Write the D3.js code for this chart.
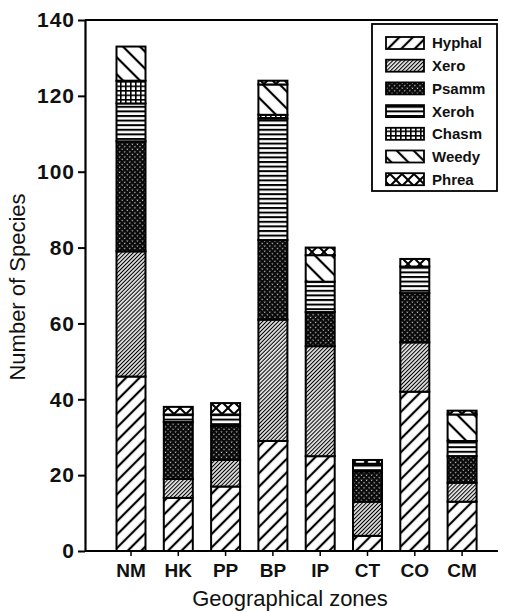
<!DOCTYPE html>
<html>
<head>
<meta charset="utf-8">
<script src="https://cdn.jsdelivr.net/npm/d3@7"></script>
<style>
  html, body { margin: 0; padding: 0; background: #fff; }
  svg { display: block; }
  text { font-family: "Liberation Sans", Arial, sans-serif; fill: #111; }
</style>
</head>
<body>
<script>
// ---- Data ----
const zones  = ["NM", "HK", "PP", "BP", "IP", "CT", "CO", "CM"];
const seriesNames = ["Hyphal", "Xero", "Psamm", "Xeroh", "Chasm", "Weedy", "Phrea"];
const hyphal = [46, 14, 17, 29, 25, 4, 42, 13];
const xero   = [33, 5, 7, 32, 29, 9, 13, 5];
const psamm  = [29, 15, 9, 21, 9, 8, 13, 7];
const xeroh  = [10, 2, 3, 32, 8, 2, 7, 4];
const chasm  = [6, 0, 0, 1, 0, 0, 0, 0];
const weedy  = [9, 0, 0, 8, 7, 0, 0, 7];
const phrea  = [0, 2, 3, 1, 2, 1, 2, 1];
const yTicks = [0, 20, 40, 60, 80, 100, 120, 140];

const seriesValues = [hyphal, xero, psamm, xeroh, chasm, weedy, phrea];
const table = zones.map((z, i) => {
  const row = { zone: z };
  seriesNames.forEach((s, k) => row[s] = seriesValues[k][i]);
  return row;
});

const W = 507, H = 612;
const svg = d3.select("body").append("svg").attr("width", W).attr("height", H);

// ---- Patterns ----
const defs = svg.append("defs");
function linePattern(id, spacing, sw, angle) {
  const p = defs.append("pattern").attr("id", id)
    .attr("patternUnits", "userSpaceOnUse")
    .attr("width", spacing).attr("height", spacing)
    .attr("patternTransform", `rotate(${angle})`);
  p.append("rect").attr("width", spacing).attr("height", spacing).attr("fill", "#fff");
  p.append("line").attr("x1", spacing / 2).attr("y1", -1).attr("x2", spacing / 2).attr("y2", spacing + 1)
    .attr("stroke", "#000").attr("stroke-width", sw);
}
linePattern("p-hyphal", 9.5, 2.2, 45);
linePattern("p-xero", 2.8, 1.2, 45);
linePattern("p-weedy", 12, 2.2, -45);
// Psamm: dark with white specks
(function () {
  const p = defs.append("pattern").attr("id", "p-psamm")
    .attr("patternUnits", "userSpaceOnUse").attr("width", 3.6).attr("height", 3.6)
    .attr("patternTransform", "rotate(45)");
  p.append("rect").attr("width", 3.6).attr("height", 3.6).attr("fill", "#0a0a0a");
  p.append("rect").attr("x", 0.6).attr("y", 0.6).attr("width", 1.1).attr("height", 1.1).attr("fill", "#fff");
})();
// Xeroh: horizontal lines
(function () {
  const p = defs.append("pattern").attr("id", "p-xeroh")
    .attr("patternUnits", "userSpaceOnUse").attr("width", 8).attr("height", 4.6);
  p.append("rect").attr("width", 8).attr("height", 4.6).attr("fill", "#fff");
  p.append("rect").attr("y", 0).attr("width", 8).attr("height", 2).attr("fill", "#000");
})();
// Chasm: grid
(function () {
  const p = defs.append("pattern").attr("id", "p-chasm")
    .attr("patternUnits", "userSpaceOnUse").attr("width", 5).attr("height", 4.5);
  p.append("rect").attr("width", 5).attr("height", 4.5).attr("fill", "#fff");
  p.append("rect").attr("width", 5).attr("height", 1.6).attr("fill", "#000");
  p.append("rect").attr("width", 1.6).attr("height", 4.5).attr("fill", "#000");
})();
// Phrea: crossed diagonals
(function () {
  const s = 12;
  const p = defs.append("pattern").attr("id", "p-phrea")
    .attr("patternUnits", "userSpaceOnUse").attr("width", s).attr("height", s);
  p.append("rect").attr("width", s).attr("height", s).attr("fill", "#fff");
  p.append("path").attr("d", `M0,0L${s},${s}M${s},0L0,${s}`)
    .attr("stroke", "#000").attr("stroke-width", 2);
})();
const fills = {
  Hyphal: "url(#p-hyphal)", Xero: "url(#p-xero)", Psamm: "url(#p-psamm)",
  Xeroh: "url(#p-xeroh)", Chasm: "url(#p-chasm)", Weedy: "url(#p-weedy)", Phrea: "url(#p-phrea)"
};

// ---- Scales ----
const mLeft = 85, mRight = 498, mTop = 20, mBottom = 551;
const x = d3.scaleBand().domain(zones).range([107.35, 485.75]).paddingInner(0.387).paddingOuter(0.1935);
const y = d3.scaleLinear().domain([0, 140]).range([mBottom, mTop]);

// ---- Bars ----
const stack = d3.stack().keys(seriesNames)(table);
const g = svg.append("g");
stack.forEach(layer => {
  g.append("g").selectAll("rect")
    .data(layer.filter(d => d[1] - d[0] > 0))
    .join("rect")
    .attr("x", d => x(d.data.zone))
    .attr("y", d => y(d[1]))
    .attr("width", x.bandwidth())
    .attr("height", d => y(d[0]) - y(d[1]))
    .attr("fill", fills[layer.key])
    .attr("stroke", "#000")
    .attr("stroke-width", 2);
});

// ---- Axes ----
const yAxis = svg.append("g").attr("transform", `translate(${mLeft},0)`)
  .call(d3.axisLeft(y).tickValues(yTicks).tickSize(7).tickSizeOuter(0).tickPadding(3));
yAxis.select(".domain").attr("stroke-width", 2.2);
yAxis.selectAll(".tick line").attr("stroke-width", 2);
yAxis.selectAll(".tick text").attr("font-size", 21).attr("font-weight", "bold")
  .attr("letter-spacing", 1)
  .style("font-family", "'Liberation Sans', Arial, sans-serif");

const xAxis = svg.append("g").attr("transform", `translate(0,${mBottom})`)
  .call(d3.axisBottom(x).tickSize(5).tickSizeOuter(0).tickPadding(8));
xAxis.select(".domain").remove();
xAxis.selectAll(".tick line").attr("stroke-width", 1.5);
xAxis.selectAll(".tick text").attr("font-size", 19).attr("font-weight", "bold")
  .style("font-family", "'Liberation Sans', Arial, sans-serif");

svg.append("line").attr("x1", mLeft).attr("x2", mRight).attr("y1", mBottom).attr("y2", mBottom)
  .attr("stroke", "#000").attr("stroke-width", 2.2);
svg.append("line").attr("x1", mLeft).attr("x2", mRight).attr("y1", mTop).attr("y2", mTop)
  .attr("stroke", "#000").attr("stroke-width", 2.2);

// ---- Titles ----
svg.append("text").attr("x", 290).attr("y", 606).attr("text-anchor", "middle")
  .attr("font-size", 22).text("Geographical zones");
svg.append("text").attr("transform", "translate(25,287) rotate(-90)").attr("text-anchor", "middle")
  .attr("font-size", 22).text("Number of Species");

// ---- Legend ----
const lg = svg.append("g");
lg.append("rect").attr("x", 372).attr("y", 24).attr("width", 125).attr("height", 167)
  .attr("fill", "#fff").attr("stroke", "#000").attr("stroke-width", 1.8);
seriesNames.forEach((s, i) => {
  const yy = 43 + i * 22.7;
  lg.append("rect").attr("x", 386).attr("y", yy - 6).attr("width", 38).attr("height", 12)
    .attr("fill", fills[s]).attr("stroke", "#000").attr("stroke-width", 1.8);
  lg.append("text").attr("x", 432).attr("y", yy).attr("dy", "0.36em")
    .attr("font-size", 15).attr("font-weight", "bold").text(s);
});
</script>
</body>
</html>
